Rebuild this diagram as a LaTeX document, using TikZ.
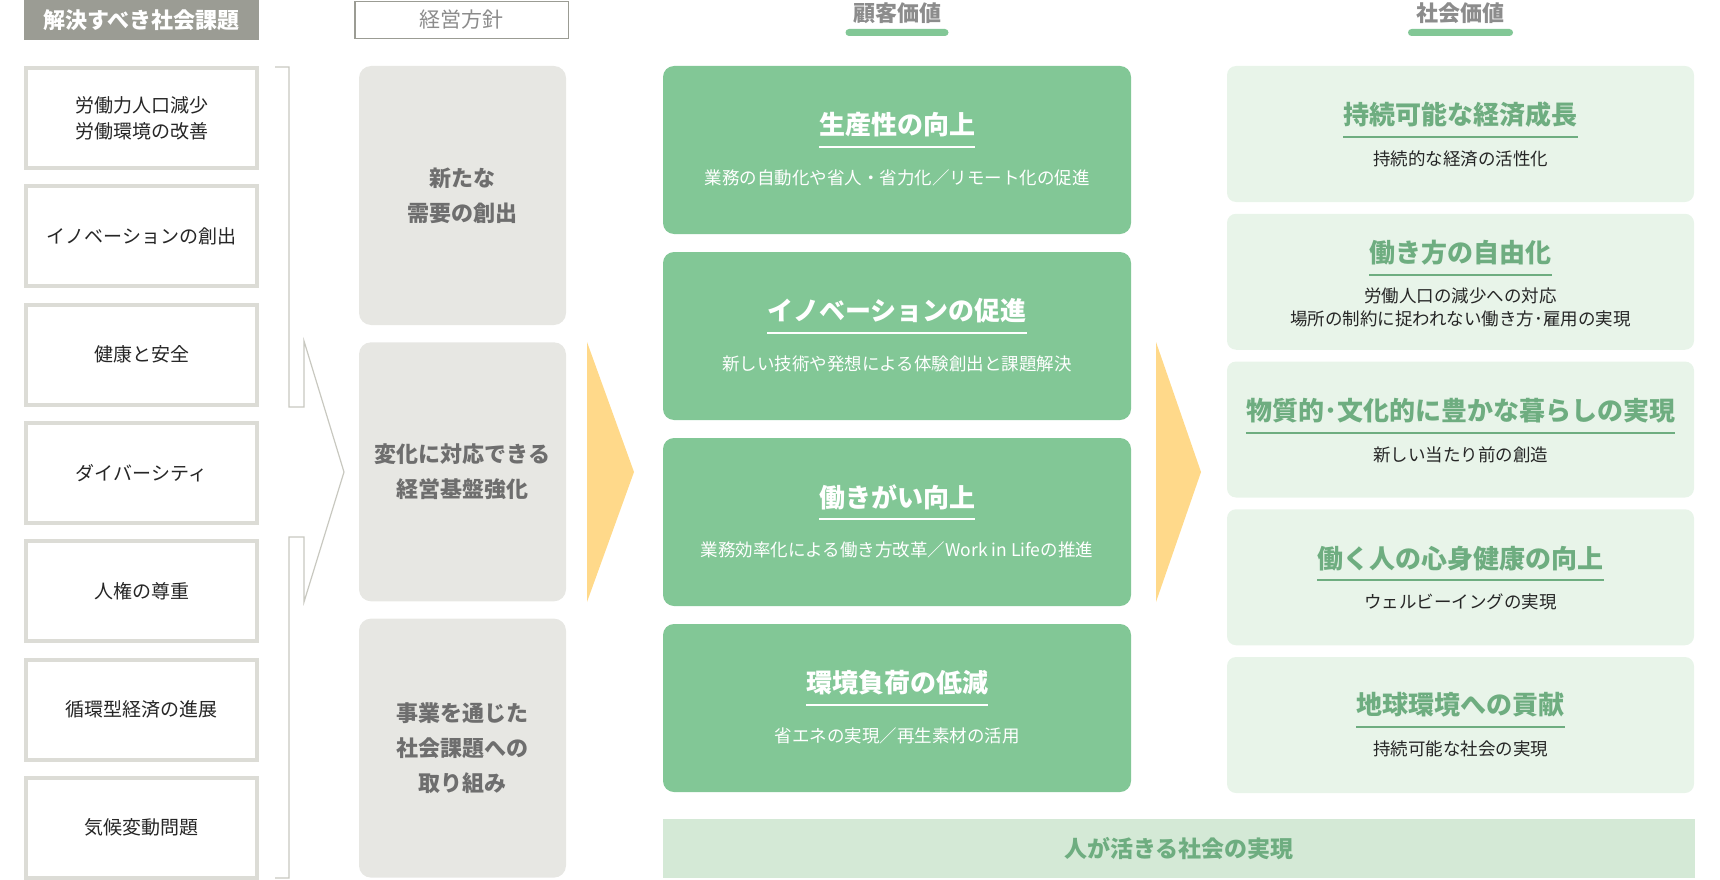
\documentclass[tikz,border=0pt]{standalone}
\usepackage{fontspec}
\setmainfont{Noto Sans CJK JP}
\usetikzlibrary{calc}

\definecolor{headgrey}{HTML}{9B9C94}
\definecolor{headtext}{HTML}{8C8C8C}
\definecolor{issueline}{HTML}{DCDCD6}
\definecolor{policyfill}{HTML}{E7E7E3}
\definecolor{policytext}{HTML}{6E6E6E}
\definecolor{custgreen}{HTML}{82C796}
\definecolor{socfill}{HTML}{E8F4E9}
\definecolor{soctext}{HTML}{6EAD80}
\definecolor{barfill}{HTML}{D4E9D6}
\definecolor{arrowyellow}{HTML}{FFD98A}
\definecolor{bracketline}{HTML}{C8C8C0}

\begin{document}
\begin{tikzpicture}[x=1pt,y=-1pt,
    header/.style={inner sep=0,text=headtext,font=\headfontsize},
    issue/.style={draw=issueline,line width=4pt,fill=white,minimum width=231pt,minimum height=100pt,align=center,inner sep=0,text=black!85,font=\issuefontsize},
    policy/.style={fill=policyfill,rounded corners=12pt,minimum width=207pt,minimum height=259pt,align=center,inner sep=0,text=policytext,font=\policyfontsize},
    custbox/.style={fill=custgreen,rounded corners=11pt,minimum width=468pt,minimum height=168pt,inner sep=0},
    socbox/.style={fill=socfill,rounded corners=9pt,minimum width=467pt,minimum height=136pt,inner sep=0},
    custtitle/.style={inner sep=0,text=white,font=\titlefontsize},
    soctitle/.style={inner sep=0,text=soctext,font=\titlefontsize},
    custsub/.style={inner sep=0,text=white,align=center,font=\subfontsize},
    socsub/.style={inner sep=0,text=black!85,align=center,font=\subfontsize},
    chevron/.style={fill=arrowyellow},
    bracket/.style={draw=bracketline,line width=1.2pt}]
    \pgfmathsetmacro{\issuex}{141.5}
    \pgfmathsetmacro{\issuepitch}{118.3}
    \pgfmathsetmacro{\policyx}{462.5}
    \pgfmathsetmacro{\policypitch}{276.3}
    \pgfmathsetmacro{\custx}{897}
    \pgfmathsetmacro{\custpitch}{186}
    \pgfmathsetmacro{\socx}{1460.5}
    \pgfmathsetmacro{\socpitch}{147.75}
    \pgfmathsetmacro{\ruledrop}{22}
    \providecommand{\headfontsize}{\fontsize{22pt}{26pt}\selectfont\bfseries}
    \providecommand{\issuefontsize}{\fontsize{19pt}{26pt}\selectfont}
    \providecommand{\policyfontsize}{\fontsize{22pt}{35pt}\selectfont\bfseries}
    \providecommand{\titlefontsize}{\fontsize{26pt}{30pt}\selectfont\bfseries}
    \providecommand{\subfontsize}{\fontsize{17.5pt}{23pt}\selectfont}
    \useasboundingbox (0,0) rectangle (1720,880);
    % column headers
    \node[fill=headgrey,minimum width=235pt,minimum height=40pt,inner sep=0,text=white,font=\headfontsize] (issuehead) at (141.5,20) {解決すべき社会課題};
    \node[draw=headgrey,line width=1.5pt,fill=white,minimum width=213.5pt,minimum height=37pt,inner sep=0,text=headtext,font=\fontsize{21pt}{26pt}\selectfont] (policyhead) at (461.5,20) {経営方針};
    \node[header] (custhead) at (\custx,13) {顧客価値};
    \node[fill=custgreen,rounded corners=3.5pt,minimum width=103pt,minimum height=7pt,inner sep=0] (custbar) at (\custx,32.5) {};
    \node[header] (sochead) at (\socx,13) {社会価値};
    \node[fill=custgreen,rounded corners=3.5pt,minimum width=105pt,minimum height=7pt,inner sep=0] (socbar) at (\socx,32.5) {};
    % issues
    \foreach \txt [count=\i from 0] in {{労働力人口減少\\労働環境の改善},イノベーションの創出,健康と安全,ダイバーシティ,人権の尊重,循環型経済の進展,気候変動問題}
        \node[issue] (issue\i) at (\issuex,118+\i*\issuepitch) {\txt};
    \draw[bracket] (275,67) -- (289,67) -- (289,407) -- (304,407) -- (304,341) -- (344,472) -- (304,602) -- (304,537) -- (289,537) -- (289,878) -- (275,878);
    % policies
    \foreach \txt [count=\i from 0] in {{新たな\\需要の創出},{変化に対応できる\\経営基盤強化},{事業を通じた\\社会課題への\\取り組み}}
        \node[policy] (policy\i) at (\policyx,195.5+\i*\policypitch) {\txt};
    \fill[chevron] (587,342) -- (634,472) -- (587,602) -- cycle;
    % customer value
    \foreach \ttl/\sub [count=\i from 0] in {生産性の向上/業務の自動化や省人・省力化／リモート化の促進,イノベーションの促進/新しい技術や発想による体験創出と課題解決,働きがい向上/業務効率化による働き方改革／Work in Lifeの推進,環境負荷の低減/省エネの実現／再生素材の活用}
    {
        \node[custbox] (cust\i) at (\custx,150+\i*\custpitch) {};
        \node[custtitle] (custtitle\i) at ($(cust\i.center)+(0,-25)$) {\ttl};
        \draw[white,line width=2pt] ($(custtitle\i.west)+(0,\ruledrop)$) -- ($(custtitle\i.east)+(0,\ruledrop)$);
        \node[custsub] (custsub\i) at ($(custtitle\i.center)+(0,53)$) {\sub};
    }
    \fill[chevron] (1156,342) -- (1201,472) -- (1156,602) -- cycle;
    % social value
    \foreach \ttl/\sub/\up/\down [count=\i from 0] in {持続可能な経済成長/持続的な経済の活性化/19/44,働き方の自由化/{労働人口の減少への対応\\場所の制約に捉われない働き方･雇用の実現}/29/55,物質的･文化的に豊かな暮らしの実現/新しい当たり前の創造/19/44,働く人の心身健康の向上/ウェルビーイングの実現/19/44,地球環境への貢献/持続可能な社会の実現/20/44}
    {
        \node[socbox] (soc\i) at (\socx,134+\i*\socpitch) {};
        \node[soctitle] (soctitle\i) at ($(soc\i.center)+(0,-\up)$) {\ttl};
        \draw[soctext,line width=2pt] ($(soctitle\i.west)+(0,\ruledrop)$) -- ($(soctitle\i.east)+(0,\ruledrop)$);
        \node[socsub] (socsub\i) at ($(soctitle\i.center)+(0,\down)$) {\sub};
    }
    \node[fill=barfill,minimum width=1032pt,minimum height=59pt,inner sep=0,text=soctext,font=\fontsize{23pt}{28pt}\selectfont\bfseries] (society) at (1179,848.5) {人が活きる社会の実現};
\end{tikzpicture}
\end{document}
